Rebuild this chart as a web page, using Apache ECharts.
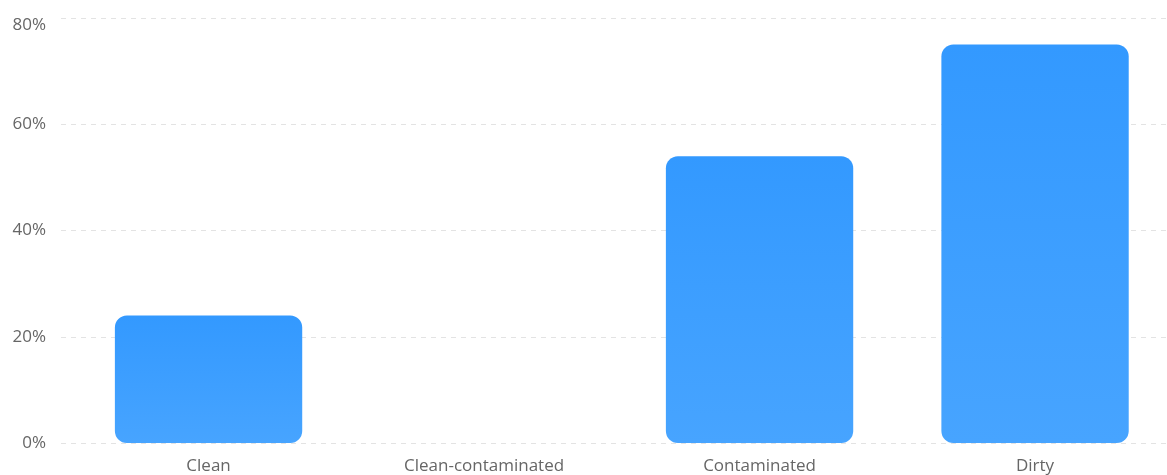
<!DOCTYPE html>
<html><head><meta charset="utf-8">
<script src="https://cdn.jsdelivr.net/npm/echarts@6/dist/echarts.min.js"></script>
<style>html,body{margin:0;padding:0;background:#fff;overflow:hidden;width:1167px;height:475px}#c{width:1185px;height:475px}</style>
</head><body><div id="c"></div>
<script>
const categories = ['Clean', 'Clean-contaminated', 'Contaminated', 'Dirty'];
const values = [24, 0, 54, 75];
const yTicks = [0, 20, 40, 60, 80];

const font = '"Open Sans", "Noto Sans", sans-serif';
const yMax = yTicks[yTicks.length - 1];
const chart = echarts.init(document.getElementById('c'));
chart.setOption({
  animation: false,
  grid: [
    { left: 70.8, right: 12.2, top: 18, bottom: 32 },
    { left: 61, right: 18, top: 18, bottom: 32 }
  ],
  xAxis: [
    { type: 'category', data: categories, gridIndex: 0,
      axisLine: { show: false }, axisTick: { show: false },
      axisLabel: { color: '#666', fontSize: 17, fontFamily: font, margin: 15 } },
    { type: 'category', data: categories, gridIndex: 1, show: false }
  ],
  yAxis: [
    { type: 'value', gridIndex: 0, min: yTicks[0], max: yMax, interval: 20,
      axisLabel: { show: false }, splitLine: { show: false }, axisLine: { show: false }, axisTick: { show: false } },
    { type: 'value', gridIndex: 1, min: yTicks[0], max: yMax, interval: 20,
      axisLine: { show: false }, axisTick: { show: false },
      axisLabel: { color: '#666', fontSize: 17, fontFamily: font, margin: 15,
        formatter: v => v === yMax ? '{t|' + v + '%}' : v + '%',
        rich: { t: { color: '#666', fontSize: 17, fontFamily: font, padding: [14, 0, 0, 0] } } },
      splitLine: { lineStyle: { color: '#e3e3e3', type: [5, 5], width: 1 } } }
  ],
  series: [{
    type: 'bar', xAxisIndex: 0, yAxisIndex: 0, data: values, barWidth: '68%',
    itemStyle: {
      borderRadius: 12,
      color: new echarts.graphic.LinearGradient(0, 0, 0, 1, [
        { offset: 0, color: '#3399ff' }, { offset: 1, color: '#47a4ff' }
      ])
    }
  }]
});
</script></body></html>
